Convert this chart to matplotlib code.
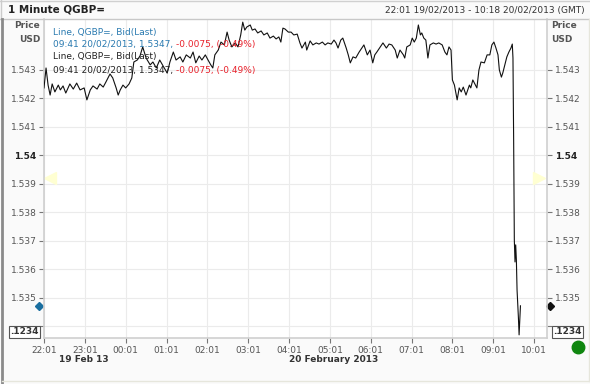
import numpy as np
import pandas as pd
import matplotlib
matplotlib.use("Agg")
import matplotlib.pyplot as plt
import matplotlib.dates as mdates
from matplotlib.lines import Line2D

# 1 minute bid prices, QGBP= (minutes after 22:01 19/02/2013)
start = pd.Timestamp("2013-02-19 22:01")
minutes = [
    0, 3, 6, 9, 12, 16, 21, 24, 28, 32,
    38, 43, 48, 53, 59, 63, 68, 72, 78, 82,
    87, 91, 97, 101, 106, 109, 112, 116, 120, 125,
    129, 132, 137, 141, 145, 150, 156, 160, 165, 170,
    175, 181, 185, 190, 194, 200, 204, 209, 215, 219,
    223, 228, 232, 237, 241, 245, 248, 251, 256, 260,
    265, 269, 272, 276, 281, 285, 289, 292, 295, 298,
    303, 306, 310, 314, 319, 323, 328, 332, 337, 341,
    345, 348, 351, 354, 359, 363, 367, 372, 376, 379,
    384, 386, 391, 395, 400, 404, 409, 413, 417, 422,
    426, 429, 432, 436, 439, 444, 447, 450, 454, 458,
    463, 467, 470, 475, 479, 483, 486, 489, 494, 498,
    503, 507, 511, 516, 519, 523, 528, 530, 533, 538,
    541, 544, 547, 550, 553, 555, 558, 561, 564, 567,
    572, 576, 580, 585, 589, 592, 595, 598, 600, 603,
    607, 610, 613, 616, 620, 625, 627, 630, 633, 636,
    639, 642, 647, 651, 655, 658, 661, 664, 667, 669,
    672, 674, 677, 680, 683, 686, 688, 689, 690, 691,
    692, 693, 694, 695, 696, 697, 698, 700,
]
prices = [
    1.54237, 1.54307, 1.54247, 1.54212, 1.54251, 1.54223, 1.54247, 1.54230, 1.54244, 1.54219,
    1.54251, 1.54233, 1.54254, 1.54230, 1.54237, 1.54195, 1.54230, 1.54244, 1.54233, 1.54251,
    1.54240, 1.54258, 1.54286, 1.54272, 1.54237, 1.54212, 1.54230, 1.54247, 1.54237, 1.54251,
    1.54272, 1.54328, 1.54335, 1.54349, 1.54381, 1.54342, 1.54318, 1.54328, 1.54307, 1.54335,
    1.54314, 1.54289, 1.54328, 1.54363, 1.54335, 1.54346, 1.54328, 1.54353, 1.54342, 1.54363,
    1.54325, 1.54349, 1.54335, 1.54353, 1.54335, 1.54318, 1.54307, 1.54353, 1.54370, 1.54398,
    1.54388, 1.54433, 1.54405, 1.54381, 1.54395, 1.54381, 1.54423, 1.54468, 1.54440, 1.54451,
    1.54458, 1.54440, 1.54444, 1.54430, 1.54437, 1.54423, 1.54430, 1.54412, 1.54419, 1.54409,
    1.54416, 1.54398, 1.54447, 1.54444, 1.54433, 1.54433, 1.54423, 1.54426, 1.54395, 1.54377,
    1.54398, 1.54370, 1.54402, 1.54388, 1.54395, 1.54391, 1.54398, 1.54388, 1.54395, 1.54391,
    1.54405, 1.54395, 1.54377, 1.54405, 1.54412, 1.54377, 1.54353, 1.54325, 1.54346, 1.54342,
    1.54363, 1.54377, 1.54388, 1.54353, 1.54370, 1.54325, 1.54353, 1.54363, 1.54381, 1.54395,
    1.54377, 1.54391, 1.54388, 1.54370, 1.54342, 1.54370, 1.54353, 1.54342, 1.54381, 1.54388,
    1.54412, 1.54398, 1.54412, 1.54458, 1.54423, 1.54430, 1.54412, 1.54405, 1.54342, 1.54388,
    1.54395, 1.54391, 1.54395, 1.54388, 1.54363, 1.54353, 1.54381, 1.54370, 1.54265, 1.54247,
    1.54195, 1.54237, 1.54223, 1.54240, 1.54212, 1.54247, 1.54237, 1.54265, 1.54251, 1.54237,
    1.54300, 1.54328, 1.54325, 1.54353, 1.54353, 1.54388, 1.54398, 1.54377, 1.54353, 1.54300,
    1.54275, 1.54289, 1.54318, 1.54346, 1.54363, 1.54377, 1.54391, 1.54342, 1.54054, 1.53703,
    1.53626, 1.53686, 1.53633, 1.53528, 1.53482, 1.53430, 1.53370, 1.53472,
]

y_ticks = [1.534, 1.535, 1.536, 1.537, 1.538, 1.539, 1.540, 1.541, 1.542, 1.543]
y_labels = ["", "1.535", "1.536", "1.537", "1.538", "1.539", "1.54", "1.541", "1.542", "1.543"]
last_price = 1.5347
marker_price = 1.5392
legend_series = "Line, QGBP=, Bid(Last)"
legend_last = "09:41 20/02/2013, 1.5347, "
legend_change = "-0.0075, (-0.49%)"
title = "1 Minute QGBP="
period = "22:01 19/02/2013 - 10:18 20/02/2013 (GMT)"

times = start + pd.to_timedelta(minutes, unit="min")

W, H = 590, 384
fig = plt.figure(figsize=(W / 100, H / 100), dpi=100, facecolor="#fafafa")


def fx(px):
    return px / W


def fy(py):
    return 1 - py / H


ax = fig.add_axes([fx(44), fy(338), fx(547) - fx(44), fy(19) - fy(338)])
ax.set_facecolor("white")

ax.plot(times, prices, color="#111111", lw=0.8, zorder=3)

ax.set_xlim(start, start + pd.Timedelta(minutes=739))
ax.set_ylim(1.53359, 1.54479)

hours = [start + pd.Timedelta(hours=k) for k in range(13)]
ax.set_xticks(hours)
ax.xaxis.set_major_formatter(mdates.DateFormatter("%H:%M"))
ax.set_yticks(y_ticks)
ax.set_yticklabels(y_labels)

ax.grid(True, color="#ebebeb", lw=0.8, zorder=0)
ax.set_axisbelow(True)

for side in ["left", "bottom", "right"]:
    ax.spines[side].set_color("#cfcfcf")
    ax.spines[side].set_linewidth(1.2)
ax.spines["top"].set_visible(False)

ax.tick_params(axis="both", direction="out", length=3.5, width=0.8, color="#777777",
               labelsize=6.5, labelcolor="#555555", pad=2)
ax.tick_params(axis="y", right=True, labelright=True)

for tick, lab in zip(ax.yaxis.get_major_ticks(), y_labels):
    if lab == "1.54":
        for t in (tick.label1, tick.label2):
            t.set_fontweight("bold")
            t.set_color("#222222")

# frame and header
fig.add_artist(Line2D([0, 1], [fy(19), fy(19)], color="#c8c8c8", lw=1,
                      transform=fig.transFigure))
fig.add_artist(Line2D([0, 1], [fy(0.5), fy(0.5)], color="#d0d0d0", lw=1,
                      transform=fig.transFigure))
fig.add_artist(Line2D([fx(0.5), fx(0.5)], [fy(19), 1], color="#cccccc", lw=1,
                      transform=fig.transFigure))
fig.add_artist(Line2D([fx(1.5), fx(1.5)], [0, fy(19)], color="#8a8a8a", lw=2,
                      transform=fig.transFigure))
fig.add_artist(Line2D([fx(588.5), fx(588.5)], [fy(381), fy(19)], color="#e6e6dc", lw=1,
                      transform=fig.transFigure))
fig.add_artist(Line2D([fx(2), fx(588.5)], [fy(381), fy(381)], color="#e6e6dc", lw=1,
                      transform=fig.transFigure))
fig.text(fx(8), fy(10), title, fontsize=7.5, fontweight="bold", color="#222222", va="center")
fig.text(fx(585), fy(11), period, fontsize=6.5, color="#333333", va="center", ha="right")

# axis unit labels
for xpos, ha in [(40, "right"), (551, "left")]:
    fig.text(fx(xpos), fy(26), "Price", fontsize=6.5, fontweight="bold", color="#555555",
             ha=ha, va="center")
    fig.text(fx(xpos), fy(39), "USD", fontsize=6.5, fontweight="bold", color="#555555",
             ha=ha, va="center")

# .1234 boxes
box = dict(boxstyle="square,pad=0.15", fc="white", ec="#555555", lw=0.8)
fig.text(fx(39), fy(332), ".1234", fontsize=6.5, fontweight="bold", color="#333333",
         ha="right", va="center", bbox=box)
fig.text(fx(553), fy(332), ".1234", fontsize=6.5, fontweight="bold", color="#333333",
         ha="left", va="center", bbox=box)

# last price markers and pale triangles
ytr = ax.get_yaxis_transform()
ax.plot([-0.01], [last_price], marker="D", ms=4, color="#1a6fa0", transform=ytr, clip_on=False)
ax.plot([1.006], [last_price], marker="D", ms=4, color="#111111", transform=ytr, clip_on=False)
ax.plot([0.012], [marker_price], marker="<", ms=8, color="#ffffd2", transform=ytr, clip_on=False)
ax.plot([0.984], [marker_price], marker=">", ms=8, color="#ffffd2", transform=ytr, clip_on=False)

# date labels
fig.text(fx(84), fy(360), "19 Feb 13", fontsize=6.5, fontweight="bold", color="#333333",
         ha="center", va="center")
fig.text(fx(334), fy(360), "20 February 2013", fontsize=6.5, fontweight="bold",
         color="#333333", ha="center", va="center")

# status dot
fig.add_artist(Line2D([fx(578)], [fy(347)], marker="o", ms=9, color="#0f860f",
                      transform=fig.transFigure))

# legend text inside the plot
fig.canvas.draw()
renderer = fig.canvas.get_renderer()
for y0, col in [(32, "#2a7ab0"), (57, "#222222")]:
    fig.text(fx(53), fy(y0), legend_series, fontsize=6.5, color=col, va="center", zorder=5)
    t = fig.text(fx(53), fy(y0 + 13), legend_last, fontsize=6.5, color=col, va="center", zorder=5)
    bb = t.get_window_extent(renderer)
    fig.text(bb.x1 / fig.bbox.width, fy(y0 + 13), legend_change, fontsize=6.5, color="#e8212b",
             va="center", zorder=5)

fig.savefig("out.png", dpi=100, facecolor=fig.get_facecolor())
